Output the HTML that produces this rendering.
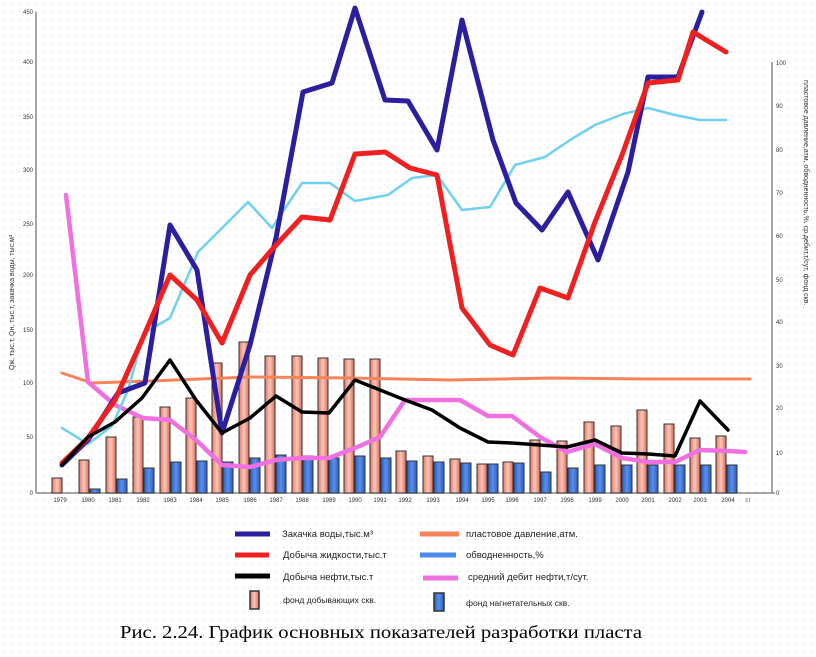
<!DOCTYPE html>
<html><head><meta charset="utf-8"><style>
html,body{margin:0;padding:0;background:#fff;}
svg{display:block;font-family:"Liberation Sans",sans-serif;}
</style></head><body>
<svg width="816" height="657" viewBox="0 0 816 657" xmlns="http://www.w3.org/2000/svg">
<defs>
<pattern id="dots" width="8" height="8" patternUnits="userSpaceOnUse"><rect x="3" y="3" width="1" height="1" fill="#ccc"/></pattern>
<linearGradient id="pg" x1="0" x2="1"><stop offset="0" stop-color="#e87868"/><stop offset="0.5" stop-color="#f8c8b8"/><stop offset="1" stop-color="#e06858"/></linearGradient>
<linearGradient id="bg" x1="0" x2="1"><stop offset="0" stop-color="#2a5fc8"/><stop offset="0.5" stop-color="#5a90e8"/><stop offset="1" stop-color="#2a58c0"/></linearGradient>
</defs>
<rect width="816" height="657" fill="url(#dots)"/>
<line x1="36" y1="12" x2="36" y2="493" stroke="#888" stroke-width="1.5"/>
<line x1="36" y1="493" x2="775" y2="493" stroke="#888" stroke-width="1.5"/>
<line x1="772" y1="62" x2="772" y2="493" stroke="#888" stroke-width="1.5"/>
<g font-size="6" fill="#333" text-anchor="end">
<text x="33" y="14">450</text><text x="33" y="64">400</text><text x="33" y="119">350</text><text x="33" y="172">300</text><text x="33" y="226">250</text><text x="33" y="277">200</text><text x="33" y="332">150</text><text x="33" y="385">100</text><text x="33" y="439">50</text><text x="33" y="495">0</text>
</g>
<g font-size="6" fill="#333">
<text x="776" y="65">100</text><text x="776" y="108">90</text><text x="776" y="152">80</text><text x="776" y="195">70</text><text x="776" y="238">60</text><text x="776" y="282">50</text><text x="776" y="324">40</text><text x="776" y="368">30</text><text x="776" y="410">20</text><text x="776" y="455">10</text><text x="776" y="495">0</text>
</g>
<text transform="translate(14,370) rotate(-90)" font-size="7" fill="#333">Qж, тыс.т, Qн, тыс.т, закачка воды, тыс.м³</text>
<text transform="translate(804,80) rotate(90)" font-size="7" fill="#333">пластовое давление,атм, обводненность,%, ср.дебит,т/сут, фонд скв.</text>
<g stroke="#333" stroke-width="1">
<rect x="52" y="478" width="10" height="15" fill="url(#pg)"/>
<rect x="79" y="460" width="10" height="33" fill="url(#pg)"/><rect x="90" y="489" width="10" height="4" fill="url(#bg)"/>
<rect x="106" y="437" width="10" height="56" fill="url(#pg)"/><rect x="117" y="479" width="10" height="14" fill="url(#bg)"/>
<rect x="133" y="417" width="10" height="76" fill="url(#pg)"/><rect x="144" y="468" width="10" height="25" fill="url(#bg)"/>
<rect x="160" y="407" width="10" height="86" fill="url(#pg)"/><rect x="171" y="462" width="10" height="31" fill="url(#bg)"/>
<rect x="186" y="398" width="10" height="95" fill="url(#pg)"/><rect x="197" y="461" width="10" height="32" fill="url(#bg)"/>
<rect x="212" y="363" width="10" height="130" fill="url(#pg)"/><rect x="223" y="462" width="10" height="31" fill="url(#bg)"/>
<rect x="239" y="342" width="10" height="151" fill="url(#pg)"/><rect x="250" y="458" width="10" height="35" fill="url(#bg)"/>
<rect x="265" y="356" width="10" height="137" fill="url(#pg)"/><rect x="276" y="455" width="10" height="38" fill="url(#bg)"/>
<rect x="292" y="356" width="10" height="137" fill="url(#pg)"/><rect x="303" y="456" width="10" height="37" fill="url(#bg)"/>
<rect x="318" y="358" width="10" height="135" fill="url(#pg)"/><rect x="329" y="458" width="10" height="35" fill="url(#bg)"/>
<rect x="344" y="359" width="10" height="134" fill="url(#pg)"/><rect x="355" y="456" width="10" height="37" fill="url(#bg)"/>
<rect x="370" y="359" width="10" height="134" fill="url(#pg)"/><rect x="381" y="458" width="10" height="35" fill="url(#bg)"/>
<rect x="396" y="451" width="10" height="42" fill="url(#pg)"/><rect x="407" y="461" width="10" height="32" fill="url(#bg)"/>
<rect x="423" y="456" width="10" height="37" fill="url(#pg)"/><rect x="434" y="462" width="10" height="31" fill="url(#bg)"/>
<rect x="450" y="459" width="10" height="34" fill="url(#pg)"/><rect x="461" y="463" width="10" height="30" fill="url(#bg)"/>
<rect x="477" y="464" width="10" height="29" fill="url(#pg)"/><rect x="488" y="464" width="10" height="29" fill="url(#bg)"/>
<rect x="503" y="462" width="10" height="31" fill="url(#pg)"/><rect x="514" y="463" width="10" height="30" fill="url(#bg)"/>
<rect x="530" y="440" width="10" height="53" fill="url(#pg)"/><rect x="541" y="472" width="10" height="21" fill="url(#bg)"/>
<rect x="557" y="441" width="10" height="52" fill="url(#pg)"/><rect x="568" y="468" width="10" height="25" fill="url(#bg)"/>
<rect x="584" y="422" width="10" height="71" fill="url(#pg)"/><rect x="595" y="465" width="10" height="28" fill="url(#bg)"/>
<rect x="611" y="426" width="10" height="67" fill="url(#pg)"/><rect x="622" y="465" width="10" height="28" fill="url(#bg)"/>
<rect x="637" y="410" width="10" height="83" fill="url(#pg)"/><rect x="648" y="465" width="10" height="28" fill="url(#bg)"/>
<rect x="664" y="424" width="10" height="69" fill="url(#pg)"/><rect x="675" y="465" width="10" height="28" fill="url(#bg)"/>
<rect x="690" y="438" width="10" height="55" fill="url(#pg)"/><rect x="701" y="465" width="10" height="28" fill="url(#bg)"/>
<rect x="716" y="436" width="10" height="57" fill="url(#pg)"/><rect x="727" y="465" width="10" height="28" fill="url(#bg)"/>
</g>
<g fill="none" stroke-linejoin="round" stroke-linecap="round">
<polyline stroke="#f5845a" stroke-width="3" points="62,373 92,383 150,381 250,377 350,378 450,380 550,378 650,379 750,379"/>
<polyline stroke="#f070e0" stroke-width="4.5" points="66,195 88,382 115,405 143,418 170,420 196,440 222,465 250,467 276,460 302,458 329,458 355,448 380,437 405,400 432,400 460,400 488,416 512,416 540,437 567,452 595,444 622,458 648,462 675,462 700,450 728,451 745,452"/>
<polyline stroke="#6fd0f0" stroke-width="2.5" points="62,428 88,444 112,426 128,390 144,333 170,318 198,252 248,202 272,228 302,183 330,183 355,201 388,195 412,178 437,175 462,210 490,207 515,165 545,157 570,140 595,125 623,114 648,108 675,115 700,120 726,120"/>
<polyline stroke="#2b1fa0" stroke-width="5" points="62,465 88,440 118,393 145,383 170,225 197,270 222,433 250,345 276,238 303,92 332,83 355,8 385,100 408,101 437,150 462,20 493,140 516,203 542,230 568,192 598,260 628,172 648,77 678,77 702,12"/>
<polyline stroke="#f02020" stroke-width="5" points="62,463 88,438 115,400 142,340 170,275 197,300 222,343 250,275 276,245 302,217 330,220 355,154 385,152 410,168 437,175 462,308 490,345 513,355 540,288 568,298 595,222 622,155 648,83 678,80 693,32 726,52"/>
<polyline stroke="#000" stroke-width="3.5" points="62,465 88,437 115,422 142,398 170,360 196,400 222,433 250,418 276,396 302,412 329,413 355,380 380,390 405,400 432,410 460,428 488,442 512,443 540,445 567,447 595,440 622,453 648,454 675,456 700,401 728,430"/>
</g>
<g font-size="6" fill="#333" text-anchor="middle">
<text x="60" y="502">1979</text><text x="88" y="502">1980</text><text x="115" y="502">1981</text><text x="143" y="502">1982</text><text x="170" y="502">1983</text><text x="196" y="502">1984</text><text x="222" y="502">1985</text><text x="250" y="502">1986</text><text x="276" y="502">1987</text><text x="302" y="502">1988</text><text x="329" y="502">1989</text><text x="355" y="502">1990</text><text x="380" y="502">1991</text><text x="405" y="502">1992</text><text x="433" y="502">1993</text><text x="462" y="502">1994</text><text x="488" y="502">1995</text><text x="512" y="502">1996</text><text x="540" y="502">1997</text><text x="567" y="502">1998</text><text x="595" y="502">1999</text><text x="622" y="502">2000</text><text x="648" y="502">2001</text><text x="675" y="502">2002</text><text x="700" y="502">2003</text><text x="728" y="502">2004</text><text x="748" y="502">г.г</text>
</g>
<g stroke-width="5" stroke-linecap="butt">
<line x1="235" y1="534" x2="270" y2="534" stroke="#2b1fa0"/>
<line x1="235" y1="555" x2="269" y2="555" stroke="#f02020"/>
<line x1="235" y1="576" x2="270" y2="576" stroke="#000"/>
<line x1="420" y1="534" x2="459" y2="534" stroke="#f5845a"/>
<line x1="420" y1="555" x2="456" y2="555" stroke="#4a8ae8"/>
<line x1="423" y1="578" x2="458" y2="578" stroke="#f070e0"/>
</g>
<rect x="250" y="591" width="9" height="18" fill="url(#pg)" stroke="#333" stroke-width="1.5"/>
<rect x="434" y="593" width="10" height="18" fill="url(#bg)" stroke="#333" stroke-width="1.5"/>
<g font-size="9.5" fill="#222">
<text x="282" y="537">Закачка воды,тыс.м³</text>
<text x="283" y="558">Добыча жидкости,тыс.т</text>
<text x="283" y="580">Добыча нефти,тыс.т</text>
<text x="283" y="603" font-size="8.5">фонд добывающих скв.</text>
<text x="466" y="537">пластовое давление,атм.</text>
<text x="466" y="558">обводненность,%</text>
<text x="468" y="580">средний дебит нефти,т/сут.</text>
<text x="466" y="606" font-size="8.5">фонд нагнетательных скв.</text>
</g>
<text x="120" y="638" font-family="Liberation Serif, serif" font-size="18" fill="#000" textLength="522" lengthAdjust="spacingAndGlyphs">Рис. 2.24. График основных показателей разработки пласта</text>
</svg>
</body></html>
